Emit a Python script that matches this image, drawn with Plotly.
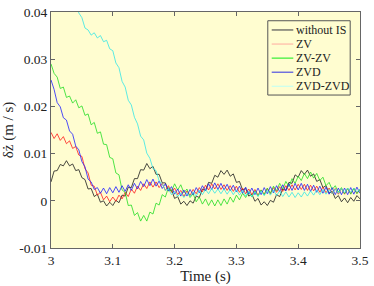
import numpy as np
import plotly.graph_objects as go

time_s = np.round(np.linspace(3.0, 3.5, 101), 3)

without_is = [
    0.0040, 0.0063, 0.0064, 0.0077, 0.0074, 0.0085, 0.0074, 0.0078, 0.0064, 0.0066,
    0.0049, 0.0045, 0.0025, 0.0026, 0.0009, 0.0014, -0.0003, 0.0000, -0.0011, -0.0003,
    -0.0010, 0.0001, -0.0004, 0.0012, 0.0010, 0.0029, 0.0028, 0.0047, 0.0047, 0.0066,
    0.0065, 0.0079, 0.0068, 0.0073, 0.0056, 0.0056, 0.0038, 0.0038, 0.0021, 0.0023,
    0.0005, 0.0009, -0.0007, -0.0001, -0.0010, 0.0000, -0.0005, 0.0010, 0.0007, 0.0025,
    0.0022, 0.0039, 0.0037, 0.0054, 0.0050, 0.0064, 0.0056, 0.0065, 0.0052, 0.0057,
    0.0039, 0.0041, 0.0023, 0.0026, 0.0010, 0.0014, -0.0001, 0.0005, -0.0009, -0.0002,
    -0.0010, 0.0001, -0.0003, 0.0013, 0.0009, 0.0025, 0.0022, 0.0039, 0.0037, 0.0055,
    0.0050, 0.0064, 0.0056, 0.0065, 0.0052, 0.0057, 0.0041, 0.0045, 0.0028, 0.0032,
    0.0016, 0.0020, 0.0005, 0.0011, -0.0002, 0.0006, -0.0004, 0.0007, -0.0001, 0.0011, 0.0004,
]

zv = [
    0.0145, 0.0132, 0.0142, 0.0128, 0.0136, 0.0121, 0.0127, 0.0111, 0.0115, 0.0097,
    0.0094, 0.0068, 0.0059, 0.0033, 0.0031, 0.0012, 0.0018, 0.0002, 0.0010, -0.0002,
    0.0008, -0.0001, 0.0012, 0.0004, 0.0018, 0.0009, 0.0025, 0.0016, 0.0031, 0.0022,
    0.0036, 0.0026, 0.0040, 0.0029, 0.0040, 0.0028, 0.0037, 0.0022, 0.0032, 0.0018,
    0.0027, 0.0013, 0.0022, 0.0009, 0.0021, 0.0011, 0.0024, 0.0015, 0.0028, 0.0019,
    0.0033, 0.0023, 0.0036, 0.0025, 0.0036, 0.0024, 0.0034, 0.0022, 0.0032, 0.0020,
    0.0031, 0.0018, 0.0027, 0.0015, 0.0025, 0.0013, 0.0024, 0.0012, 0.0023, 0.0014,
    0.0026, 0.0015, 0.0028, 0.0018, 0.0030, 0.0020, 0.0032, 0.0022, 0.0034, 0.0023,
    0.0035, 0.0024, 0.0035, 0.0022, 0.0033, 0.0021, 0.0031, 0.0018, 0.0029, 0.0017,
    0.0027, 0.0015, 0.0026, 0.0014, 0.0026, 0.0014, 0.0026, 0.0015, 0.0027, 0.0016, 0.0025,
]

zv_zv = [
    0.0290, 0.0270, 0.0262, 0.0238, 0.0241, 0.0219, 0.0222, 0.0207, 0.0214, 0.0197,
    0.0201, 0.0181, 0.0184, 0.0161, 0.0166, 0.0143, 0.0146, 0.0120, 0.0119, 0.0092,
    0.0089, 0.0059, 0.0055, 0.0023, 0.0018, -0.0010, -0.0009, -0.0031, -0.0025, -0.0043,
    -0.0031, -0.0043, -0.0024, -0.0028, -0.0005, -0.0009, 0.0013, 0.0008, 0.0028, 0.0020,
    0.0036, 0.0023, 0.0034, 0.0017, 0.0025, 0.0007, 0.0015, -0.0002, 0.0008, -0.0007,
    0.0004, -0.0010, 0.0002, -0.0011, 0.0002, -0.0010, 0.0004, -0.0007, 0.0008, -0.0003,
    0.0012, 0.0002, 0.0016, 0.0007, 0.0019, 0.0008, 0.0021, 0.0010, 0.0023, 0.0012,
    0.0027, 0.0016, 0.0031, 0.0021, 0.0037, 0.0025, 0.0041, 0.0030, 0.0047, 0.0037,
    0.0052, 0.0043, 0.0058, 0.0047, 0.0061, 0.0048, 0.0058, 0.0043, 0.0050, 0.0032,
    0.0039, 0.0024, 0.0032, 0.0018, 0.0028, 0.0015, 0.0027, 0.0014, 0.0026, 0.0015, 0.0024,
]

zvd = [
    0.0256, 0.0236, 0.0208, 0.0199, 0.0176, 0.0171, 0.0148, 0.0141, 0.0116, 0.0108,
    0.0083, 0.0072, 0.0046, 0.0040, 0.0024, 0.0028, 0.0016, 0.0027, 0.0015, 0.0028,
    0.0017, 0.0030, 0.0018, 0.0032, 0.0020, 0.0034, 0.0022, 0.0037, 0.0025, 0.0041,
    0.0030, 0.0045, 0.0032, 0.0046, 0.0031, 0.0042, 0.0026, 0.0036, 0.0021, 0.0030,
    0.0014, 0.0025, 0.0010, 0.0023, 0.0010, 0.0024, 0.0013, 0.0028, 0.0017, 0.0032,
    0.0021, 0.0036, 0.0024, 0.0038, 0.0024, 0.0037, 0.0023, 0.0035, 0.0021, 0.0033,
    0.0019, 0.0031, 0.0016, 0.0029, 0.0014, 0.0027, 0.0013, 0.0027, 0.0013, 0.0028,
    0.0015, 0.0030, 0.0017, 0.0032, 0.0019, 0.0034, 0.0021, 0.0036, 0.0022, 0.0037,
    0.0023, 0.0037, 0.0022, 0.0035, 0.0020, 0.0033, 0.0018, 0.0031, 0.0016, 0.0029,
    0.0014, 0.0028, 0.0013, 0.0027, 0.0013, 0.0027, 0.0013, 0.0028, 0.0014, 0.0029, 0.0016,
]

zvd_zvd = [
    0.0580, 0.0558, 0.0542, 0.0518, 0.0503, 0.0478, 0.0462, 0.0438, 0.0423, 0.0398,
    0.0388, 0.0366, 0.0362, 0.0351, 0.0356, 0.0345, 0.0350, 0.0337, 0.0340, 0.0322,
    0.0318, 0.0292, 0.0282, 0.0253, 0.0241, 0.0213, 0.0203, 0.0177, 0.0163, 0.0137,
    0.0129, 0.0101, 0.0090, 0.0068, 0.0064, 0.0042, 0.0036, 0.0022, 0.0025, 0.0013,
    0.0020, 0.0009, 0.0017, 0.0007, 0.0016, 0.0009, 0.0019, 0.0010, 0.0022, 0.0013,
    0.0024, 0.0015, 0.0026, 0.0016, 0.0025, 0.0015, 0.0025, 0.0014, 0.0024, 0.0013,
    0.0023, 0.0012, 0.0022, 0.0010, 0.0020, 0.0008, 0.0019, 0.0009, 0.0021, 0.0011,
    0.0022, 0.0012, 0.0023, 0.0011, 0.0021, 0.0009, 0.0019, 0.0008, 0.0018, 0.0007,
    0.0017, 0.0008, 0.0019, 0.0010, 0.0021, 0.0012, 0.0023, 0.0013, 0.0024, 0.0014,
    0.0024, 0.0015, 0.0025, 0.0016, 0.0026, 0.0017, 0.0027, 0.0018, 0.0027, 0.0019, 0.0025,
]

series_names = ["without IS", "ZV", "ZV-ZV", "ZVD", "ZVD-ZVD"]
series_values = [without_is, zv, zv_zv, zvd, zvd_zvd]
series_colors = ["#1a1a1a", "#ff1a1a", "#22dd22", "#2020ff", "#33e6e6"]
legend_swatch_colors = ["#555555", "#ffb8a8", "#33ee33", "#5050e0", "#c8fff0"]

x_ticks = [3.0, 3.1, 3.2, 3.3, 3.4, 3.5]
x_tick_labels = ["3", "3.1", "3.2", "3.3", "3.4", "3.5"]
y_ticks = [-0.01, 0.0, 0.01, 0.02, 0.03, 0.04]
y_tick_labels = ["-0.01", "0", "0.01", "0.02", "0.03", "0.04"]

FONT = "Liberation Serif"
BG = "#fffdd0"
W, H = 374, 286
ML, MR, MT, MB = 51, 8, 5, 38
PW, PH = W - ML - MR, H - MT - MB

def px_x(px):
    return (px - ML) / PW

def px_y(py):
    return (H - MB - py) / PH

fig = go.Figure()
for name, vals, col in zip(series_names, series_values, series_colors):
    fig.add_trace(go.Scatter(x=time_s, y=vals, name=name, mode="lines",
                             line=dict(color=col, width=0.8), showlegend=False))

# Legend drawn as a box with line swatches and text (compact MATLAB-style rows)
shapes = [dict(type="rect", xref="paper", yref="paper",
               x0=px_x(272), x1=px_x(356), y0=px_y(90.5), y1=px_y(14),
               line=dict(color="#555555", width=1), fillcolor=BG, layer="above")]
annotations = []
row_y = [23.5, 38, 52.5, 67, 81.5]
for name, col, ry in zip(series_names, legend_swatch_colors, row_y):
    shapes.append(dict(type="line", xref="paper", yref="paper",
                       x0=px_x(276), x1=px_x(298), y0=px_y(ry), y1=px_y(ry),
                       line=dict(color=col, width=1.2), layer="above"))
    annotations.append(dict(xref="paper", yref="paper", x=px_x(299), y=px_y(ry),
                            xanchor="left", yanchor="middle", text=name, showarrow=False,
                            font=dict(family=FONT, size=12, color="#222")))

axis_common = dict(showline=True, mirror="ticks", linecolor="#666666", linewidth=1,
                   ticks="inside", ticklen=4, tickcolor="#666666", showgrid=False,
                   zeroline=False, ticklabeloverflow="allow",
                   tickfont=dict(family=FONT, size=13.5, color="#222"))

fig.update_layout(
    width=W, height=H,
    margin=dict(l=ML, r=MR, t=MT, b=MB),
    paper_bgcolor="white", plot_bgcolor=BG,
    font=dict(family=FONT, size=13, color="#222"),
    xaxis=dict(range=[3.0, 3.5], tickvals=x_ticks, ticktext=x_tick_labels,
               title=dict(text="Time (s)", standoff=0, font=dict(family=FONT, size=15)),
               **axis_common),
    yaxis=dict(range=[-0.0100001, 0.0400001], tickvals=y_ticks, ticktext=y_tick_labels,
               title=dict(text="δż (m / s)", standoff=1, font=dict(family=FONT, size=15)),
               **axis_common),
    shapes=shapes,
    annotations=annotations,
    showlegend=False,
)

fig.write_html("out.html", post_script="document.body.style.margin='0';",
               config={"displayModeBar": False})
